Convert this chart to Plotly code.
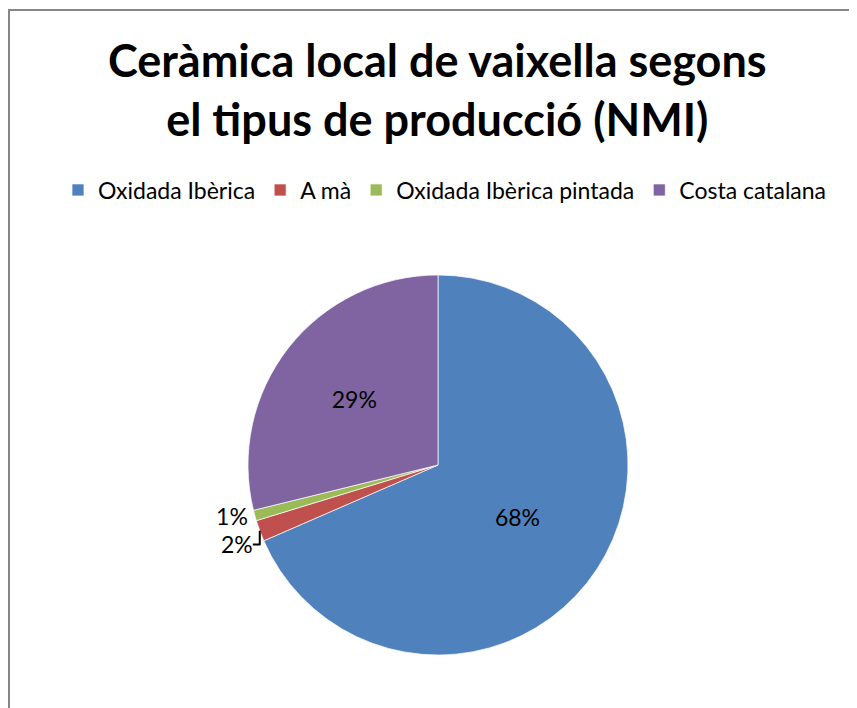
import plotly.graph_objects as go

categories = ["Oxidada Ibèrica", "A mà", "Oxidada Ibèrica pintada", "Costa catalana"]
values = [76, 2, 1, 32]
colors = ["#4F81BD", "#C0504D", "#9BBB59", "#8064A2"]
text_positions = ["inside", "outside", "outside", "inside"]
title_text = "Ceràmica local de vaixella segons<br>el tipus de producció (NMI)"

W, H = 857, 708
cx, cy, r = 430, 457, 190
FONT = "Lato, Open Sans, sans-serif"

fig = go.Figure(go.Pie(
    labels=categories,
    values=values,
    sort=False,
    direction="clockwise",
    rotation=0,
    marker=dict(colors=colors, line=dict(color="white", width=0.7)),
    texttemplate="%{percent:.0%}",
    textposition=text_positions,
    insidetextorientation="horizontal",
    textfont=dict(family=FONT, size=23, color="#000000"),
    domain=dict(x=[(cx - r) / W, (cx + r) / W], y=[1 - (cy + r) / H, 1 - (cy - r) / H]),
    automargin=False,
    hoverinfo="label+percent",
))

fig.update_layout(
    width=W, height=H,
    margin=dict(l=0, r=0, t=0, b=0),
    paper_bgcolor="white",
    plot_bgcolor="white",
    annotations=[dict(
        text="<b>" + title_text + "</b>",
        xref="paper", yref="paper",
        x=cx / W, xanchor="center",
        y=1 - 81 / H, yanchor="middle",
        showarrow=False,
        font=dict(family=FONT, size=45, color="#000000"),
    )],
    legend=dict(
        orientation="h",
        x=437 / W, xanchor="center",
        y=1 - 182 / H, yanchor="middle",
        font=dict(family=FONT, size=23, color="#000000"),
        itemwidth=30,
        traceorder="normal",
    ),
    shapes=[dict(
        type="rect", xref="paper", yref="paper",
        x0=1 / W, x1=1.02, y0=-0.02, y1=1 - 2 / H,
        line=dict(color="#868686", width=2),
        fillcolor="rgba(0,0,0,0)",
        layer="below",
    )],
)

fig.write_html("out.html")
